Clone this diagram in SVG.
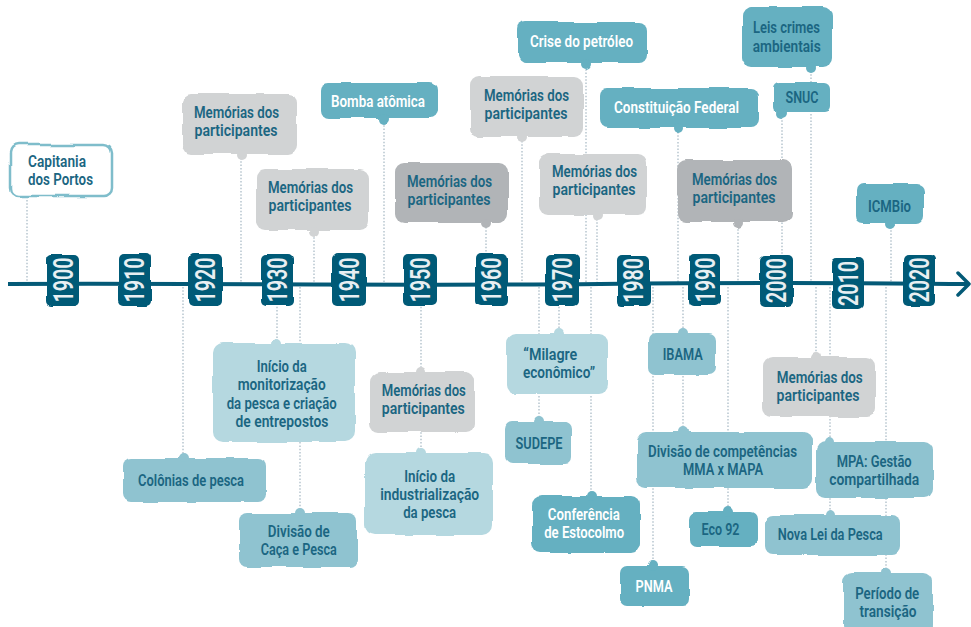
<svg xmlns="http://www.w3.org/2000/svg" width="971" height="627" viewBox="0 0 971 627">
  <defs>
    <!-- gentle hand-drawn wobble for the label boxes -->
    <filter id="wob" x="-10%" y="-20%" width="120%" height="140%">
      <feTurbulence type="fractalNoise" baseFrequency="0.03" numOctaves="2" seed="4" result="n"/>
      <feDisplacementMap in="SourceGraphic" in2="n" scale="4.5" xChannelSelector="R" yChannelSelector="G"/>
    </filter>
    <style>
      .t { font-family: "Roboto", "Liberation Sans", sans-serif; font-weight: 600; font-size: 15.8px; text-anchor: middle; fill: #1b6682; }
      .w { fill: #ffffff; }
      .yr { font-size: 27px; fill: #e8eff2; }
      .c { stroke: #b6c5ce; stroke-width: 1.5; stroke-dasharray: 1.5 1.8; fill: none; }
      .gray { fill: #d1d3d4; }
      .dgray { fill: #b1b4b7; }
      .teal { fill: #65b0c1; }
      .lt { fill: #8fc3d0; }
      .pale { fill: #b5d8e0; }
      .yb { fill: #045a77; }
    </style>
  </defs>

  <!-- dotted connectors from each label to the timeline -->
  <g id="connectors" class="c">
    <line x1="27" y1="200" x2="27" y2="282"/>
    <line x1="241" y1="158" x2="241" y2="282"/>
    <line x1="314" y1="234" x2="314" y2="282"/>
    <line x1="384" y1="122" x2="384" y2="282"/>
    <line x1="486" y1="227" x2="486" y2="282"/>
    <line x1="522" y1="141" x2="522" y2="282"/>
    <line x1="586" y1="66" x2="586" y2="282"/>
    <line x1="597" y1="219" x2="597" y2="282"/>
    <line x1="678" y1="132" x2="678" y2="282"/>
    <line x1="811" y1="71" x2="811" y2="282"/>
    <line x1="782" y1="117" x2="782" y2="282"/>
    <line x1="738" y1="226" x2="738" y2="282"/>
    <line x1="891" y1="227" x2="891" y2="282"/>
    <line x1="183" y1="287" x2="183" y2="456"/>
    <line x1="277" y1="287" x2="277" y2="341"/>
    <line x1="300" y1="287" x2="300" y2="511"/>
    <line x1="421" y1="287" x2="421" y2="452"/>
    <line x1="559" y1="287" x2="559" y2="332"/>
    <line x1="539" y1="287" x2="539" y2="420"/>
    <line x1="591" y1="287" x2="591" y2="494"/>
    <line x1="683" y1="287" x2="683" y2="430"/>
    <line x1="653" y1="287" x2="653" y2="564"/>
    <line x1="728" y1="287" x2="728" y2="510"/>
    <line x1="816" y1="287" x2="816" y2="355"/>
    <line x1="830" y1="287" x2="830" y2="513"/>
    <line x1="886" y1="287" x2="886" y2="571"/>
  </g>

  <!-- timeline axis -->
  <g id="axis">
    <path d="M8,284 C200,283 400,286 600,284 S850,283 968,284" fill="none" stroke="#045a77" stroke-width="4"/>
    <path d="M958,273 L969,284 L958,295" fill="none" stroke="#045a77" stroke-width="3.5" stroke-linecap="round" stroke-linejoin="round"/>
  </g>

  <!-- decade markers -->
  <g id="years">
    <g id="y1900"><rect class="yb" x="46" y="254" width="34" height="52" rx="5" filter="url(#wob)"/><text class="t yr" transform="translate(63,280) rotate(-90)" dy="0.36em" textLength="45" lengthAdjust="spacingAndGlyphs">1900</text></g>
    <g id="y1910"><rect class="yb" x="118" y="254" width="33" height="52" rx="5" filter="url(#wob)"/><text class="t yr" transform="translate(134.5,280) rotate(-90)" dy="0.36em" textLength="45" lengthAdjust="spacingAndGlyphs">1910</text></g>
    <g id="y1920"><rect class="yb" x="189" y="254" width="33" height="52" rx="5" filter="url(#wob)"/><text class="t yr" transform="translate(205.5,280) rotate(-90)" dy="0.36em" textLength="45" lengthAdjust="spacingAndGlyphs">1920</text></g>
    <g id="y1930"><rect class="yb" x="261" y="254" width="33" height="52" rx="5" filter="url(#wob)"/><text class="t yr" transform="translate(277.5,280) rotate(-90)" dy="0.36em" textLength="45" lengthAdjust="spacingAndGlyphs">1930</text></g>
    <g id="y1940"><rect class="yb" x="332" y="254" width="34" height="52" rx="5" filter="url(#wob)"/><text class="t yr" transform="translate(349,280) rotate(-90)" dy="0.36em" textLength="45" lengthAdjust="spacingAndGlyphs">1940</text></g>
    <g id="y1950"><rect class="yb" x="403" y="254" width="34" height="52" rx="5" filter="url(#wob)"/><text class="t yr" transform="translate(420,280) rotate(-90)" dy="0.36em" textLength="45" lengthAdjust="spacingAndGlyphs">1950</text></g>
    <g id="y1960"><rect class="yb" x="475" y="254" width="33" height="52" rx="5" filter="url(#wob)"/><text class="t yr" transform="translate(491.5,280) rotate(-90)" dy="0.36em" textLength="45" lengthAdjust="spacingAndGlyphs">1960</text></g>
    <g id="y1970"><rect class="yb" x="546" y="254" width="33" height="52" rx="5" filter="url(#wob)"/><text class="t yr" transform="translate(562.5,280) rotate(-90)" dy="0.36em" textLength="45" lengthAdjust="spacingAndGlyphs">1970</text></g>
    <g id="y1980"><rect class="yb" x="617" y="255" width="33" height="51" rx="5" filter="url(#wob)"/><text class="t yr" transform="translate(633.5,280.5) rotate(-90)" dy="0.36em" textLength="45" lengthAdjust="spacingAndGlyphs">1980</text></g>
    <g id="y1990"><rect class="yb" x="689" y="254" width="32" height="52" rx="5" filter="url(#wob)"/><text class="t yr" transform="translate(705,280) rotate(-90)" dy="0.36em" textLength="45" lengthAdjust="spacingAndGlyphs">1990</text></g>
    <g id="y2000"><rect class="yb" x="760" y="255" width="33" height="51" rx="5" filter="url(#wob)"/><text class="t yr" transform="translate(776.5,280.5) rotate(-90)" dy="0.36em" textLength="45" lengthAdjust="spacingAndGlyphs">2000</text></g>
    <g id="y2010"><rect class="yb" x="832" y="258" width="32" height="51" rx="5" filter="url(#wob)"/><text class="t yr" transform="translate(848,283.5) rotate(-90)" dy="0.36em" textLength="45" lengthAdjust="spacingAndGlyphs">2010</text></g>
    <g id="y2020"><rect class="yb" x="903" y="254" width="32" height="52" rx="5" filter="url(#wob)"/><text class="t yr" transform="translate(919,280) rotate(-90)" dy="0.36em" textLength="45" lengthAdjust="spacingAndGlyphs">2020</text></g>
  </g>

  <!-- events above the axis -->
  <g id="n-capitania">
    <rect x="10" y="145" width="102" height="51" rx="8" fill="#ffffff" stroke="#7fbdcb" stroke-width="2.5" filter="url(#wob)"/>
    <text class="t" x="57" y="167" textLength="58" lengthAdjust="spacingAndGlyphs">Capitania</text>
    <text class="t" x="60.5" y="185" textLength="65" lengthAdjust="spacingAndGlyphs">dos Portos</text>
  </g>
  <g id="n-mem1920">
    <g class="gray" filter="url(#wob)"><rect x="182" y="94" width="115" height="60" rx="9"/><circle cx="241" cy="155" r="5"/></g>
    <text class="t" x="236.5" y="117.5" textLength="85" lengthAdjust="spacingAndGlyphs">Memórias dos</text>
    <text class="t" x="236" y="135.5" textLength="83" lengthAdjust="spacingAndGlyphs">participantes</text>
  </g>
  <g id="n-mem1930">
    <g class="gray" filter="url(#wob)"><rect x="256" y="169" width="113" height="61" rx="9"/><circle cx="314" cy="231" r="5"/></g>
    <text class="t" x="310.5" y="192.5" textLength="85" lengthAdjust="spacingAndGlyphs">Memórias dos</text>
    <text class="t" x="310" y="211" textLength="83" lengthAdjust="spacingAndGlyphs">participantes</text>
  </g>
  <g id="n-bomba">
    <g class="teal" filter="url(#wob)"><rect x="321" y="83" width="117" height="35" rx="8"/><circle cx="384" cy="119" r="5"/></g>
    <text class="t w" x="378" y="107" textLength="94" lengthAdjust="spacingAndGlyphs">Bomba atômica</text>
  </g>
  <g id="n-mem1950a">
    <g class="dgray" filter="url(#wob)"><rect x="395" y="163" width="113" height="60" rx="9"/><circle cx="486" cy="224" r="5"/></g>
    <text class="t" x="449.5" y="186.5" textLength="85" lengthAdjust="spacingAndGlyphs">Memórias dos</text>
    <text class="t" x="449" y="204.5" textLength="83" lengthAdjust="spacingAndGlyphs">participantes</text>
  </g>
  <g id="n-mem1960">
    <g class="gray" filter="url(#wob)"><rect x="470" y="76" width="113" height="61" rx="9"/><circle cx="522" cy="138" r="5"/></g>
    <text class="t" x="526.5" y="101" textLength="85" lengthAdjust="spacingAndGlyphs">Memórias dos</text>
    <text class="t" x="526" y="119" textLength="83" lengthAdjust="spacingAndGlyphs">participantes</text>
  </g>
  <g id="n-crise">
    <g class="teal" filter="url(#wob)"><rect x="518" y="22" width="129" height="41" rx="8"/><circle cx="586" cy="64" r="5"/></g>
    <text class="t w" x="581.5" y="47" textLength="103" lengthAdjust="spacingAndGlyphs">Crise do petróleo</text>
  </g>
  <g id="n-mem1970">
    <g class="gray" filter="url(#wob)"><rect x="539" y="154" width="108" height="61" rx="9"/><circle cx="597" cy="216" r="5"/></g>
    <text class="t" x="594.5" y="177" textLength="85" lengthAdjust="spacingAndGlyphs">Memórias dos</text>
    <text class="t" x="594" y="195" textLength="83" lengthAdjust="spacingAndGlyphs">participantes</text>
  </g>
  <g id="n-constituicao">
    <g class="teal" filter="url(#wob)"><rect x="600" y="88" width="159" height="40" rx="8"/><circle cx="678" cy="129" r="5"/></g>
    <text class="t w" x="676.5" y="113" textLength="125" lengthAdjust="spacingAndGlyphs">Constituição Federal</text>
  </g>
  <g id="n-leis">
    <g class="teal" filter="url(#wob)"><rect x="742" y="7" width="90" height="60" rx="9"/><circle cx="811" cy="68" r="5"/></g>
    <text class="t" x="786.5" y="33" textLength="67" lengthAdjust="spacingAndGlyphs">Leis crimes</text>
    <text class="t" x="786.7" y="52" textLength="68" lengthAdjust="spacingAndGlyphs">ambientais</text>
  </g>
  <g id="n-snuc">
    <g class="teal" filter="url(#wob)"><rect x="773" y="82" width="57" height="31" rx="6"/><circle cx="782" cy="114" r="5"/></g>
    <text class="t" x="802" y="103" textLength="33" lengthAdjust="spacingAndGlyphs">SNUC</text>
  </g>
  <g id="n-mem1990">
    <g class="dgray" filter="url(#wob)"><rect x="677" y="160" width="115" height="62" rx="9"/><circle cx="738" cy="223" r="5"/></g>
    <text class="t" x="734.5" y="185" textLength="85" lengthAdjust="spacingAndGlyphs">Memórias dos</text>
    <text class="t" x="734" y="203" textLength="83" lengthAdjust="spacingAndGlyphs">participantes</text>
  </g>
  <g id="n-icmbio">
    <g class="teal" filter="url(#wob)"><rect x="856" y="184" width="68" height="39" rx="7"/><circle cx="891" cy="224" r="5"/></g>
    <text class="t" x="889.5" y="212" textLength="43" lengthAdjust="spacingAndGlyphs">ICMBio</text>
  </g>

  <!-- events below the axis -->
  <g id="n-colonias">
    <g class="lt" filter="url(#wob)"><rect x="123" y="458" width="143" height="44" rx="8"/><circle cx="183" cy="458" r="5"/></g>
    <text class="t" x="191" y="486" textLength="106" lengthAdjust="spacingAndGlyphs">Colônias de pesca</text>
  </g>
  <g id="n-monitorizacao">
    <g class="pale" filter="url(#wob)"><rect x="213" y="343" width="142" height="99" rx="10"/><circle cx="277" cy="343" r="5"/></g>
    <text class="t" x="281.7" y="372" textLength="50" lengthAdjust="spacingAndGlyphs">Início da</text>
    <text class="t" x="281.7" y="390" textLength="88" lengthAdjust="spacingAndGlyphs">monitorização</text>
    <text class="t" x="281.7" y="408.5" textLength="110" lengthAdjust="spacingAndGlyphs">da pesca e criação</text>
    <text class="t" x="282" y="427" textLength="93" lengthAdjust="spacingAndGlyphs">de entrepostos</text>
  </g>
  <g id="n-caca">
    <g class="lt" filter="url(#wob)"><rect x="239" y="513" width="118" height="54" rx="8"/><circle cx="300" cy="513" r="5"/></g>
    <text class="t" x="298.8" y="537" textLength="62" lengthAdjust="spacingAndGlyphs">Divisão de</text>
    <text class="t" x="298.8" y="555" textLength="76" lengthAdjust="spacingAndGlyphs">Caça e Pesca</text>
  </g>
  <g id="n-mem1950b">
    <g class="gray" filter="url(#wob)"><rect x="370" y="372" width="105" height="60" rx="9"/><circle cx="421" cy="372" r="5"/></g>
    <text class="t" x="423.8" y="395.5" textLength="84" lengthAdjust="spacingAndGlyphs">Memórias dos</text>
    <text class="t" x="423.3" y="413.5" textLength="83" lengthAdjust="spacingAndGlyphs">participantes</text>
  </g>
  <g id="n-industrializacao">
    <g class="pale" filter="url(#wob)"><rect x="365" y="453" width="128" height="82" rx="10"/><circle cx="421" cy="453" r="5"/></g>
    <text class="t" x="429.7" y="482" textLength="51" lengthAdjust="spacingAndGlyphs">Início da</text>
    <text class="t" x="429.7" y="500" textLength="99" lengthAdjust="spacingAndGlyphs">industrialização</text>
    <text class="t" x="429.7" y="518" textLength="53" lengthAdjust="spacingAndGlyphs">da pesca</text>
  </g>
  <g id="n-milagre">
    <g class="pale" filter="url(#wob)"><rect x="507" y="334" width="101" height="60" rx="9"/><circle cx="559" cy="334" r="5"/></g>
    <text class="t" x="550.3" y="360" textLength="54" lengthAdjust="spacingAndGlyphs">“Milagre</text>
    <text class="t" x="559" y="378" textLength="72" lengthAdjust="spacingAndGlyphs">econômico”</text>
  </g>
  <g id="n-sudepe">
    <g class="lt" filter="url(#wob)"><rect x="505" y="422" width="67" height="42" rx="7"/><circle cx="539" cy="422" r="5"/></g>
    <text class="t" x="539" y="449" textLength="47" lengthAdjust="spacingAndGlyphs">SUDEPE</text>
  </g>
  <g id="n-estocolmo">
    <g class="teal" filter="url(#wob)"><rect x="532" y="496" width="108" height="57" rx="9"/><circle cx="591" cy="496" r="5"/></g>
    <text class="t w" x="583.8" y="520" textLength="72" lengthAdjust="spacingAndGlyphs">Conferência</text>
    <text class="t w" x="584.2" y="538" textLength="80" lengthAdjust="spacingAndGlyphs">de Estocolmo</text>
  </g>
  <g id="n-ibama">
    <g class="lt" filter="url(#wob)"><rect x="648" y="333" width="68" height="42" rx="7"/><circle cx="683" cy="333" r="5"/></g>
    <text class="t" x="682.7" y="360" textLength="40" lengthAdjust="spacingAndGlyphs">IBAMA</text>
  </g>
  <g id="n-competencias">
    <g class="lt" filter="url(#wob)"><rect x="637" y="432" width="175" height="56" rx="9"/><circle cx="683" cy="432" r="5"/></g>
    <text class="t" x="722.5" y="457" textLength="149" lengthAdjust="spacingAndGlyphs">Divisão de competências</text>
    <text class="t" x="723" y="475" textLength="80" lengthAdjust="spacingAndGlyphs">MMA x MAPA</text>
  </g>
  <g id="n-pnma">
    <g class="teal" filter="url(#wob)"><rect x="620" y="566" width="69" height="40" rx="7"/><circle cx="653" cy="566" r="5"/></g>
    <text class="t w" x="654" y="592" textLength="37" lengthAdjust="spacingAndGlyphs">PNMA</text>
  </g>
  <g id="n-eco92">
    <g class="teal" filter="url(#wob)"><rect x="690" y="512" width="67" height="35" rx="7"/><circle cx="728" cy="512" r="5"/></g>
    <text class="t" x="720.5" y="535" textLength="38" lengthAdjust="spacingAndGlyphs">Eco 92</text>
  </g>
  <g id="n-mem2000">
    <g class="gray" filter="url(#wob)"><rect x="763" y="357" width="113" height="60" rx="9"/><circle cx="816" cy="357" r="5"/></g>
    <text class="t" x="819.7" y="383" textLength="86" lengthAdjust="spacingAndGlyphs">Memórias dos</text>
    <text class="t" x="818" y="401" textLength="83" lengthAdjust="spacingAndGlyphs">participantes</text>
  </g>
  <g id="n-mpa">
    <g class="lt" filter="url(#wob)"><rect x="816" y="442" width="117" height="56" rx="9"/><circle cx="829" cy="442" r="5"/></g>
    <text class="t" x="874.2" y="467" textLength="75" lengthAdjust="spacingAndGlyphs">MPA: Gestão</text>
    <text class="t" x="874.2" y="485" textLength="90" lengthAdjust="spacingAndGlyphs">compartilhada</text>
  </g>
  <g id="n-novalei">
    <g class="lt" filter="url(#wob)"><rect x="765" y="515" width="135" height="40" rx="8"/><circle cx="830" cy="515" r="5"/></g>
    <text class="t" x="830.2" y="540" textLength="105" lengthAdjust="spacingAndGlyphs">Nova Lei da Pesca</text>
  </g>
  <g id="n-periodo">
    <g class="lt" filter="url(#wob)"><rect x="843" y="573" width="90" height="62" rx="9"/><circle cx="886" cy="573" r="5"/></g>
    <text class="t" x="887.2" y="599" textLength="64" lengthAdjust="spacingAndGlyphs">Período de</text>
    <text class="t" x="888" y="617" textLength="57" lengthAdjust="spacingAndGlyphs">transição</text>
  </g>
</svg>
